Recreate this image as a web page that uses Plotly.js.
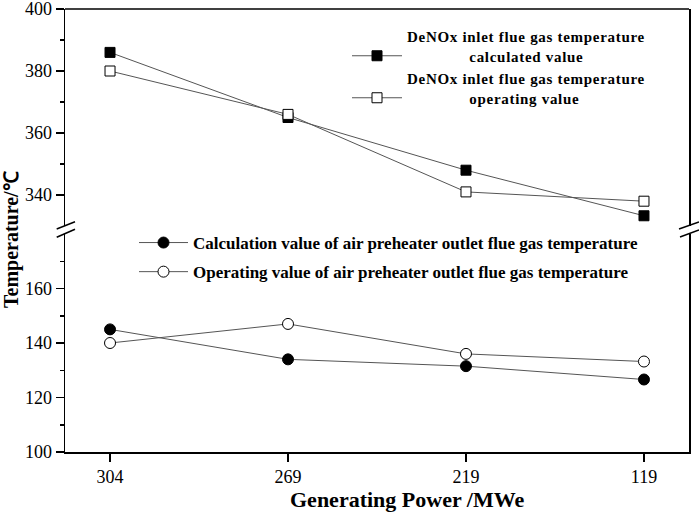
<!DOCTYPE html>
<html><head><meta charset="utf-8">
<script src="https://cdn.plot.ly/plotly-3.0.1.min.js"></script>
<style>
html,body{margin:0;padding:0;background:#fff}
.legendtext{letter-spacing:0.7px}
.legend2 .legendtext{letter-spacing:0.55px}
</style>
</head><body><div id="chart" style="width:699px;height:512px"></div>
<script>
// Data
const power = ['304', '269', '219', '119'];
const denoxCalc = [386, 365, 348, 333.3];
const denoxOper = [380, 366, 341, 338];
const aphCalc = [145, 134, 131.5, 126.6];
const aphOper = [140, 147, 136, 133.2];
const upperTicks = [340, 360, 380, 400];
const upperMinor = [350, 370, 390];
const lowerTicks = [100, 120, 140, 160];
const lowerMinor = [110, 130, 150, 170];

const NB = '\u00a0';
const pad = n => NB.repeat(n);
const serif = 'Liberation Serif, Times New Roman, serif';
const lineStyle = {color: '#555', width: 1};

const traces = [
  {x: power, y: denoxCalc, yaxis: 'y2', mode: 'lines+markers', legend: 'legend',
   name: 'DeNOx inlet flue gas temperature<br>' + pad(14) + 'calculated value',
   line: lineStyle, marker: {symbol: 'square', size: 10, color: '#000', line: {color: '#000', width: 1}}},
  {x: power, y: denoxOper, yaxis: 'y2', mode: 'lines+markers', legend: 'legend',
   name: 'DeNOx inlet flue gas temperature<br>' + pad(14) + 'operating value',
   line: lineStyle, marker: {symbol: 'square', size: 10, color: '#fff', line: {color: '#000', width: 1}}},
  {x: power, y: aphCalc, yaxis: 'y', mode: 'lines+markers', legend: 'legend2', legendgroup: 'a',
   name: 'Calculation value of air preheater outlet flue gas temperature',
   line: lineStyle, marker: {symbol: 'circle', size: 11, color: '#000', line: {color: '#000', width: 1}}},
  {x: power, y: aphOper, yaxis: 'y', mode: 'lines+markers', legend: 'legend2', legendgroup: 'b',
   name: 'Operating value of air preheater outlet flue gas temperature',
   line: lineStyle, marker: {symbol: 'circle', size: 11, color: '#fff', line: {color: '#000', width: 1}}}
];

const TOP = 9, BOT = 452, H = BOT - TOP;
const px = v => (v - 65) / 624;
const py = v => (BOT - v) / H;
const seg = (x0, y0, x1, y1) => ({type: 'line', xref: 'paper', yref: 'paper',
  x0: px(x0), y0: py(y0), x1: px(x1), y1: py(y1), line: {color: '#000', width: 1.5}});

const axisCommon = {
  showline: true, linecolor: '#000', linewidth: 1.5, showgrid: false, zeroline: false,
  ticks: 'outside', ticklen: 8, tickwidth: 1.5, tickcolor: '#000', ticklabeloverflow: 'allow',
  tickfont: {family: serif, size: 18, color: '#000'}
};

const layout = {
  width: 699, height: 512,
  margin: {l: 65, r: 10, t: TOP, b: 512 - BOT},
  paper_bgcolor: '#fff', plot_bgcolor: '#fff',
  font: {family: serif, color: '#000'},
  showlegend: true,
  xaxis: Object.assign({}, axisCommon, {
    type: 'category', range: [-0.253, 3.253], anchor: 'y'
  }),
  yaxis: Object.assign({}, axisCommon, {
    domain: [0, py(234)], range: [100, 180], tickmode: 'array', tickvals: lowerTicks,
    mirror: true, anchor: 'x',
    minor: {tickmode: 'array', tickvals: lowerMinor, ticks: 'outside', ticklen: 4, tickwidth: 1.5, tickcolor: '#000'}
  }),
  yaxis2: Object.assign({}, axisCommon, {
    domain: [py(226), 1], range: [330, 400], tickmode: 'array', tickvals: upperTicks,
    mirror: true, anchor: 'x',
    minor: {tickmode: 'array', tickvals: upperMinor, ticks: 'outside', ticklen: 4, tickwidth: 1.5, tickcolor: '#000'}
  }),
  legend: {x: px(347), y: py(20), xanchor: 'left', yanchor: 'top', bgcolor: 'rgba(0,0,0,0)',
           font: {family: serif, size: 15, weight: 'bold', color: '#000'}, itemwidth: 50, valign: 'bottom'},
  legend2: {x: px(134), y: py(225), xanchor: 'left', yanchor: 'top', bgcolor: 'rgba(0,0,0,0)',
            traceorder: 'grouped', tracegroupgap: 4,
            font: {family: serif, size: 17, weight: 'bold', color: '#000'}, itemwidth: 49},
  annotations: [
    {text: 'Temperature/\u2103', textangle: -90, xref: 'paper', yref: 'paper',
     x: px(11), y: py(240), xanchor: 'center', yanchor: 'middle', showarrow: false,
     font: {family: serif, size: 20, weight: 'bold', color: '#000'}},
    {text: 'Generating Power /MWe', xref: 'paper', yref: 'paper',
     x: px(407), y: py(499), xanchor: 'center', yanchor: 'middle', showarrow: false,
     font: {family: serif, size: 22, weight: 'bold', color: '#000'}}
  ],
  shapes: [
    {type: 'line', xref: 'paper', yref: 'paper', x0: 0, x1: 1, y0: 1, y1: 1, line: {color: '#000', width: 1.5}},
    seg(56.7, 229, 75, 221.7), seg(56.7, 237.3, 75, 229.3),
    seg(679, 229, 699, 222), seg(680, 237, 699, 230)
  ]
};

Plotly.newPlot('chart', traces, layout, {displayModeBar: false, staticPlot: true});
</script></body></html>
